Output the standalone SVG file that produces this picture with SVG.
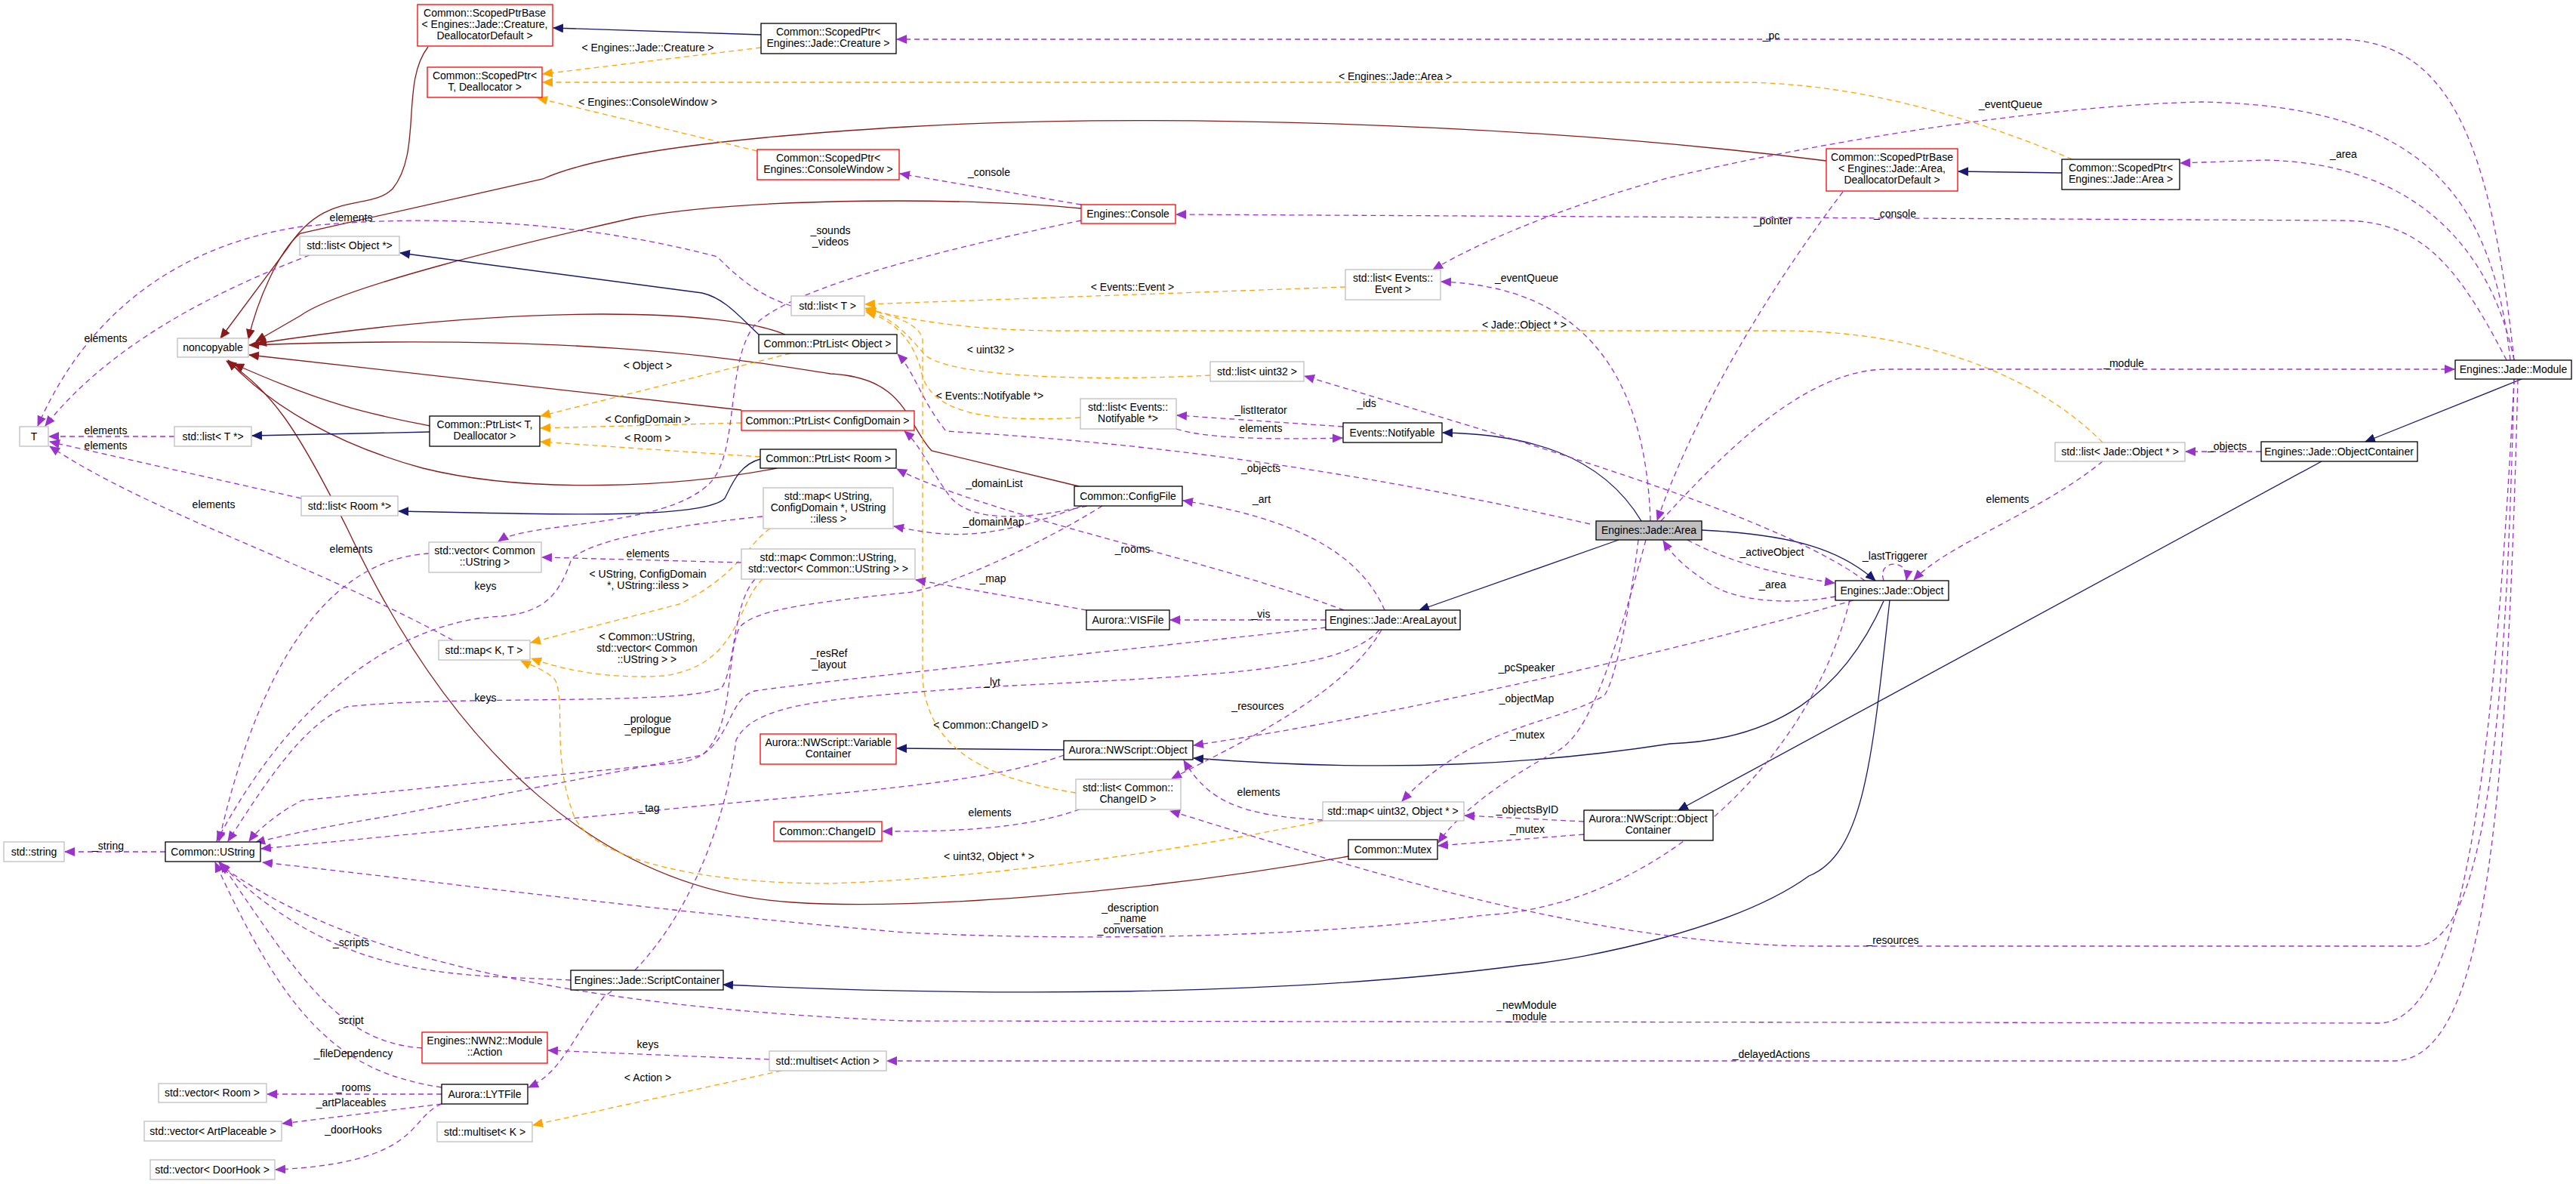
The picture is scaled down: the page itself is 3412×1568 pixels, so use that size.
<svg xmlns="http://www.w3.org/2000/svg" width="3412" height="1568" viewBox="0 0 3412 1568">
<style>
text{font-family:"Liberation Sans Narrow","Liberation Sans",Arial,sans-serif;font-size:14px;fill:#000}
.n text{text-anchor:middle}
.k{fill:#fff;stroke:#000;stroke-width:1.3}
.r{fill:#fff;stroke:#ff0000;stroke-width:1.3}
.g{fill:#fff;stroke:#bfbfbf;stroke-width:1.3}
.s{fill:#bfbfbf;stroke:#000;stroke-width:1.3}
#edges path{fill:none;stroke-width:1.3}
.inh{stroke:#191970;marker-end:url(#mi)}
.prv{stroke:#8b1a1a;marker-end:url(#mp)}
.use{stroke:#9a32cd;stroke-dasharray:7,5;marker-end:url(#mu)}
.tpl{stroke:#ffa500;stroke-dasharray:7,5;marker-end:url(#mt)}
.l text{text-anchor:middle}
</style>
<defs>
<marker id="mi" markerWidth="14" markerHeight="12" refX="13" refY="6" orient="auto" markerUnits="userSpaceOnUse"><path d="M0,0 L14,6 L0,12 z" fill="#191970"/></marker>
<marker id="mp" markerWidth="14" markerHeight="12" refX="13" refY="6" orient="auto" markerUnits="userSpaceOnUse"><path d="M0,0 L14,6 L0,12 z" fill="#8b1a1a"/></marker>
<marker id="mu" markerWidth="14" markerHeight="12" refX="13" refY="6" orient="auto" markerUnits="userSpaceOnUse"><path d="M0,0 L14,6 L0,12 z" fill="#9a32cd"/></marker>
<marker id="mt" markerWidth="14" markerHeight="12" refX="13" refY="6" orient="auto" markerUnits="userSpaceOnUse"><path d="M0,0 L14,6 L0,12 z" fill="#ffa500"/></marker>
</defs>
<rect width="3412" height="1568" fill="#fff"/>
<g id="edges">
<!-- private inheritance to noncopyable -->
<path class="prv" d="M567,62 C530,110 560,200 520,250 C490,280 430,250 380,330 L292,448"/>
<path class="prv" d="M2419,213 C2000,160 1500,150 1200,168 C1000,180 800,200 719,237 L398,309 C370,330 340,400 329,449"/>
<path class="prv" d="M1432,276 C1300,262 1000,260 842,288 C700,320 450,380 398,418 L339,452"/>
<path class="prv" d="M1040,443 C960,410 700,400 340,455"/>
<path class="prv" d="M1429,644 L1234,597 C1200,560 1200,500 1100,495 C1000,480 800,440 330,457"/>
<path class="prv" d="M982,543 L330,470"/>
<path class="prv" d="M569,564 C500,550 440,540 310,482"/>
<path class="prv" d="M1029,620 C900,645 700,655 560,620 C450,590 360,540 302,477"/>
<path class="prv" d="M1786,1134 C1500,1185 1200,1205 1050,1195 C800,1180 600,1000 460,700 C390,560 360,520 300,478"/>
<!-- inheritance -->
<path class="inh" d="M1008,46 L733,37"/>
<path class="inh" d="M2731,229 L2594,227"/>
<path class="inh" d="M1005,443 C980,420 960,395 930,388 L530,335"/>
<path class="inh" d="M569,572 L334,577"/>
<path class="inh" d="M1007,608 C980,615 970,640 960,660 C930,690 700,680 528,677"/>
<path class="inh" d="M2174,690 C2120,600 2020,575 1911,573"/>
<path class="inh" d="M2144,715 L1880,808"/>
<path class="inh" d="M2254,702 C2380,708 2440,730 2484,769"/>
<path class="inh" d="M3340,502 L3133,585"/>
<path class="inh" d="M3075,611 L2223,1073"/>
<path class="inh" d="M2495,796 C2440,920 2350,980 2212,985 C2050,1010 1850,1025 1581,1004"/>
<path class="inh" d="M2503,795 C2480,1000 2470,1130 2396,1160 C2300,1230 2100,1270 2018,1278 C1700,1320 1300,1320 958,1304"/>
<path class="inh" d="M1409,993 L1188,991"/>
<!-- templates -->
<path class="tpl" d="M1008,63 L719,98"/>
<path class="tpl" d="M2745,211 C2600,150 2450,109 2300,109 L719,109"/>
<path class="tpl" d="M1003,200 L712,130"/>
<path class="tpl" d="M1047,468 L716,551"/>
<path class="tpl" d="M982,560 L716,567"/>
<path class="tpl" d="M1007,605 L716,585"/>
<path class="tpl" d="M1782,380 L1146,403"/>
<path class="tpl" d="M2785,586 C2700,500 2550,438 2360,438 L1400,438 C1300,438 1200,425 1146,408"/>
<path class="tpl" d="M1603,497 C1450,505 1260,500 1225,470 C1200,440 1180,420 1147,410"/>
<path class="tpl" d="M1431,553 C1300,560 1240,545 1222,500 C1215,460 1190,425 1147,413"/>
<path class="tpl" d="M1425,1050 C1300,1030 1230,990 1222,900 L1222,450 C1220,430 1180,415 1147,411"/>
<path class="tpl" d="M1035,1418 L706,1490"/>
<path class="tpl" d="M1020,700 C990,720 980,760 900,800 L703,851"/>
<path class="tpl" d="M1010,767 C975,800 980,880 880,895 C800,900 740,885 704,872"/>
<path class="tpl" d="M1752,1087 C1500,1140 1250,1165 1100,1170 C900,1170 780,1130 760,1080 C730,1000 750,930 735,900 C720,885 700,880 690,875"/>
<!-- usage -->
<path class="use" d="M3330,477 C3300,200 3250,55 3100,52 L1188,52"/>
<path class="use" d="M3325,477 C3300,250 3200,140 2916,135 C2700,140 2400,190 2212,235 C2080,270 1960,320 1898,357"/>
<path class="use" d="M2186,690 C2180,500 2100,380 1909,373"/>
<path class="use" d="M3330,477 C3300,330 3200,216 3000,212 L2888,216"/>
<path class="use" d="M3320,477 C3250,340 3200,292 3100,292 L1558,284"/>
<path class="use" d="M2441,254 C2330,400 2240,560 2195,689"/>
<path class="use" d="M1432,271 L1192,230"/>
<path class="use" d="M1432,292 C1250,330 1050,380 1000,430 C960,480 980,600 940,640 C880,700 700,690 660,717"/>
<path class="use" d="M1048,405 C1000,390 970,360 950,340 C800,300 600,280 400,300 C200,330 100,450 50,564"/>
<path class="use" d="M410,338 C300,380 150,450 60,564"/>
<path class="use" d="M231,578 L65,578"/>
<path class="use" d="M399,660 L66,585"/>
<path class="use" d="M600,848 C400,740 200,680 66,591"/>
<path class="use" d="M568,733 C450,740 350,850 290,1114"/>
<path class="use" d="M1010,684 C850,700 780,720 757,740 C740,790 720,810 666,816 C550,820 400,900 287,1114"/>
<path class="use" d="M982,745 L718,738"/>
<path class="use" d="M1000,767 C970,800 975,880 956,911 C900,935 600,920 459,936 C400,960 350,1040 302,1114"/>
<path class="use" d="M3330,502 C3320,900 3300,1250 3200,1253 L2400,1253 C2100,1250 1800,1150 1550,1074"/>
<path class="use" d="M2455,795 C2300,840 1900,940 1581,987"/>
<path class="use" d="M2170,715 C2160,800 2140,900 2125,921 C2060,960 1950,960 1857,1061"/>
<path class="use" d="M2180,715 C2130,900 2100,980 2056,998 C1980,1040 1930,1080 1905,1116"/>
<path class="use" d="M2098,1088 L1940,1080"/>
<path class="use" d="M2098,1105 L1905,1120"/>
<path class="use" d="M1752,1086 C1640,1080 1600,1060 1568,1007"/>
<path class="use" d="M1430,1072 C1350,1100 1250,1101 1169,1101"/>
<path class="use" d="M1409,1000 C1300,1040 1100,1050 900,1070 L346,1124"/>
<path class="use" d="M2450,795 C2400,1000 2200,1200 1965,1212 C1700,1245 1400,1245 1200,1235 C900,1210 600,1170 348,1142"/>
<path class="use" d="M756,1298 C600,1290 450,1300 290,1142"/>
<path class="use" d="M3330,502 C3300,1100 3250,1355 3150,1355 L1200,1352 C900,1340 500,1300 291,1145"/>
<path class="use" d="M3335,502 C3320,1100 3290,1405 3170,1405 L1175,1405"/>
<path class="use" d="M2200,690 C2300,580 2400,489 2500,489 L3251,489"/>
<path class="use" d="M2785,611 C2700,680 2580,720 2535,768"/>
<path class="use" d="M2995,598 L2895,598"/>
<path class="use" d="M2235,715 C2300,750 2380,765 2430,772"/>
<path class="use" d="M2431,790 C2380,800 2300,800 2260,770 C2230,750 2215,735 2203,716"/>
<path class="use" d="M2495,769 C2485,740 2530,740 2525,768"/>
<path class="use" d="M2470,769 C2350,680 2000,580 1728,498"/>
<path class="use" d="M1779,565 L1559,550"/>
<path class="use" d="M1558,568 C1600,582 1700,582 1778,580"/>
<path class="use" d="M2106,694 C1700,600 1400,580 1253,571 C1220,530 1210,490 1189,469"/>
<path class="use" d="M1834,808 C1800,730 1712,686 1567,663"/>
<path class="use" d="M1440,670 C1350,690 1290,690 1260,660 C1230,620 1220,590 1198,571"/>
<path class="use" d="M1433,670 C1300,720 1250,710 1184,697"/>
<path class="use" d="M1780,808 C1600,740 1300,680 1188,621"/>
<path class="use" d="M1439,808 L1213,768"/>
<path class="use" d="M1756,831 C1500,860 1100,900 1000,915 C960,925 970,1000 900,1010 L400,1060 C370,1075 340,1100 330,1114"/>
<path class="use" d="M1460,670 C1380,720 1250,780 1200,785 C1050,800 1000,810 980,830 C960,870 975,960 930,1000 L520,1080 C460,1090 400,1100 338,1116"/>
<path class="use" d="M1827,834 C1780,890 1600,895 1300,910 C1100,925 1000,930 975,980 C960,1100 900,1250 800,1320 C760,1370 745,1420 700,1440"/>
<path class="use" d="M1756,821 L1550,821"/>
<path class="use" d="M1830,834 C1780,920 1650,980 1552,1031"/>
<path class="use" d="M559,1388 C450,1380 400,1300 292,1142"/>
<path class="use" d="M585,1440 C450,1420 380,1350 285,1142"/>
<path class="use" d="M585,1449 L354,1449"/>
<path class="use" d="M585,1462 L374,1488"/>
<path class="use" d="M585,1462 C540,1480 560,1540 365,1549"/>
<path class="use" d="M1019,1403 L726,1391"/>
<path class="use" d="M219,1128 L86,1128"/>
</g>
<g id="labels" class="l">
<text x="858" y="68">&lt; Engines::Jade::Creature &gt;</text>
<text x="858" y="140">&lt; Engines::ConsoleWindow &gt;</text>
<text x="1848" y="106">&lt; Engines::Jade::Area &gt;</text>
<text x="2346" y="52">_pc</text>
<text x="2663" y="143">_eventQueue</text>
<text x="2022" y="373">_eventQueue</text>
<text x="3104" y="209">_area</text>
<text x="2510" y="288">_console</text>
<text x="2348" y="297">_pointer</text>
<text x="1310" y="233">_console</text>
<text x="1100" y="310">_sounds</text><text x="1100" y="325">_videos</text>
<text x="465" y="293">elements</text>
<text x="140" y="453">elements</text>
<text x="140" y="575">elements</text>
<text x="140" y="595">elements</text>
<text x="283" y="673">elements</text>
<text x="465" y="732">elements</text>
<text x="643" y="781">keys</text>
<text x="858" y="738">elements</text>
<text x="858" y="765">&lt; UString, ConfigDomain</text><text x="858" y="780">*, UString::iless &gt;</text>
<text x="857" y="848">&lt; Common::UString,</text><text x="857" y="863">std::vector&lt; Common</text><text x="857" y="878">::UString &gt; &gt;</text>
<text x="643" y="929">keys</text>
<text x="1098" y="870">_resRef</text><text x="1098" y="885">_layout</text>
<text x="858" y="957">_prologue</text><text x="858" y="971">_epilogue</text>
<text x="860" y="1075">_tag</text>
<text x="1314" y="908">_lyt</text>
<text x="1312" y="965">&lt; Common::ChangeID &gt;</text>
<text x="1310" y="1139">&lt; uint32, Object * &gt;</text>
<text x="1311" y="1081">elements</text>
<text x="1667" y="1054">elements</text>
<text x="1666" y="940">_resources</text>
<text x="1670" y="818">_vis</text>
<text x="1315" y="771">_map</text>
<text x="1500" y="732">_rooms</text>
<text x="1317" y="645">_domainList</text>
<text x="1316" y="696">_domainMap</text>
<text x="1671" y="666">_art</text>
<text x="1670" y="625">_objects</text>
<text x="1670" y="548">_listIterator</text>
<text x="1670" y="572">elements</text>
<text x="1810" y="539">_ids</text>
<text x="1500" y="385">&lt; Events::Event &gt;</text>
<text x="2019" y="435">&lt; Jade::Object * &gt;</text>
<text x="1312" y="468">&lt; uint32 &gt;</text>
<text x="1311" y="529">&lt; Events::Notifyable *&gt;</text>
<text x="858" y="489">&lt; Object &gt;</text>
<text x="858" y="560">&lt; ConfigDomain &gt;</text>
<text x="858" y="585">&lt; Room &gt;</text>
<text x="2813" y="486">_module</text>
<text x="2950" y="596">_objects</text>
<text x="2659" y="666">elements</text>
<text x="2347" y="736">_activeObject</text>
<text x="2348" y="779">_area</text>
<text x="2510" y="741">_lastTriggerer</text>
<text x="2022" y="889">_pcSpeaker</text>
<text x="2022" y="930">_objectMap</text>
<text x="2023" y="978">_mutex</text>
<text x="2023" y="1077">_objectsByID</text>
<text x="2023" y="1103">_mutex</text>
<text x="1497" y="1207">_description</text><text x="1497" y="1221">_name</text><text x="1497" y="1236">_conversation</text>
<text x="2507" y="1250">_resources</text>
<text x="2022" y="1336">_newModule</text><text x="2022" y="1351">_module</text>
<text x="2346" y="1401">_delayedActions</text>
<text x="465" y="1253">_scripts</text>
<text x="465" y="1356">script</text>
<text x="468" y="1400">_fileDependency</text>
<text x="468" y="1445">_rooms</text>
<text x="465" y="1465">_artPlaceables</text>
<text x="468" y="1501">_doorHooks</text>
<text x="858" y="1388">keys</text>
<text x="858" y="1432">&lt; Action &gt;</text>
<text x="143" y="1125">_string</text>
</g>
<g id="n1" class="n"><rect class="r" x="553" y="6" width="179" height="55"/><text x="642" y="22">Common::ScopedPtrBase</text><text x="642" y="37">&lt; Engines::Jade::Creature,</text><text x="642" y="52">DeallocatorDefault &gt;</text></g>
<g id="n2" class="n"><rect class="r" x="566" y="89" width="152" height="40"/><text x="642" y="105">Common::ScopedPtr&lt;</text><text x="642" y="120">T, Deallocator &gt;</text></g>
<g id="n3" class="n"><rect class="r" x="1003" y="198" width="188" height="40"/><text x="1097" y="214">Common::ScopedPtr&lt;</text><text x="1097" y="229">Engines::ConsoleWindow &gt;</text></g>
<g id="n4" class="n"><rect class="k" x="1008" y="31" width="179" height="40"/><text x="1097" y="47">Common::ScopedPtr&lt;</text><text x="1097" y="62">Engines::Jade::Creature &gt;</text></g>
<g id="n5" class="n"><rect class="g" x="397" y="313" width="132" height="25"/><text x="463" y="330">std::list&lt; Object *&gt;</text></g>
<g id="n6" class="n"><rect class="g" x="1048" y="392" width="97" height="26"/><text x="1096" y="410">std::list&lt; T &gt;</text></g>
<g id="n7" class="n"><rect class="g" x="235" y="448" width="94" height="25"/><text x="282" y="465">noncopyable</text></g>
<g id="n8" class="n"><rect class="k" x="1005" y="443" width="183" height="25"/><text x="1096" y="460">Common::PtrList&lt; Object &gt;</text></g>
<g id="n9" class="n"><rect class="g" x="26" y="565" width="38" height="26"/><text x="45" y="583">T</text></g>
<g id="n10" class="n"><rect class="g" x="231" y="565" width="102" height="26"/><text x="282" y="583">std::list&lt; T *&gt;</text></g>
<g id="n11" class="n"><rect class="k" x="569" y="551" width="146" height="40"/><text x="642" y="567">Common::PtrList&lt; T,</text><text x="642" y="582">Deallocator &gt;</text></g>
<g id="n12" class="n"><rect class="r" x="982" y="544" width="229" height="26"/><text x="1096" y="562">Common::PtrList&lt; ConfigDomain &gt;</text></g>
<g id="n13" class="n"><rect class="k" x="1007" y="595" width="180" height="25"/><text x="1097" y="612">Common::PtrList&lt; Room &gt;</text></g>
<g id="n14" class="n"><rect class="g" x="399" y="657" width="128" height="26"/><text x="463" y="675">std::list&lt; Room *&gt;</text></g>
<g id="n15" class="n"><rect class="g" x="1011" y="646" width="172" height="54"/><text x="1097" y="662">std::map&lt; UString,</text><text x="1097" y="677">ConfigDomain *, UString</text><text x="1097" y="692">::iless &gt;</text></g>
<g id="n16" class="n"><rect class="g" x="568" y="718" width="149" height="40"/><text x="642" y="734">std::vector&lt; Common</text><text x="642" y="749">::UString &gt;</text></g>
<g id="n17" class="n"><rect class="g" x="982" y="727" width="230" height="40"/><text x="1097" y="743">std::map&lt; Common::UString,</text><text x="1097" y="758">std::vector&lt; Common::UString &gt; &gt;</text></g>
<g id="n18" class="n"><rect class="r" x="1432" y="271" width="125" height="25"/><text x="1494" y="288">Engines::Console</text></g>
<g id="n19" class="n"><rect class="g" x="1782" y="357" width="126" height="40"/><text x="1845" y="373">std::list&lt; Events::</text><text x="1845" y="388">Event &gt;</text></g>
<g id="n20" class="n"><rect class="g" x="1603" y="479" width="124" height="26"/><text x="1665" y="497">std::list&lt; uint32 &gt;</text></g>
<g id="n21" class="n"><rect class="g" x="1431" y="528" width="127" height="40"/><text x="1494" y="544">std::list&lt; Events::</text><text x="1494" y="559">Notifyable *&gt;</text></g>
<g id="n22" class="n"><rect class="k" x="1779" y="560" width="131" height="26"/><text x="1844" y="578">Events::Notifyable</text></g>
<g id="n23" class="n"><rect class="k" x="1423" y="644" width="143" height="26"/><text x="1494" y="662">Common::ConfigFile</text></g>
<g id="n24" class="n"><rect class="s" x="2114" y="690" width="140" height="25"/><text x="2184" y="707">Engines::Jade::Area</text></g>
<g id="n25" class="n"><rect class="r" x="2419" y="197" width="174" height="56"/><text x="2506" y="213">Common::ScopedPtrBase</text><text x="2506" y="228">&lt; Engines::Jade::Area,</text><text x="2506" y="243">DeallocatorDefault &gt;</text></g>
<g id="n26" class="n"><rect class="k" x="2731" y="211" width="156" height="40"/><text x="2809" y="227">Common::ScopedPtr&lt;</text><text x="2809" y="242">Engines::Jade::Area &gt;</text></g>
<g id="n27" class="n"><rect class="k" x="3252" y="477" width="154" height="25"/><text x="3329" y="494">Engines::Jade::Module</text></g>
<g id="n28" class="n"><rect class="g" x="2722" y="586" width="172" height="25"/><text x="2808" y="603">std::list&lt; Jade::Object * &gt;</text></g>
<g id="n29" class="n"><rect class="k" x="2995" y="585" width="207" height="26"/><text x="3098" y="603">Engines::Jade::ObjectContainer</text></g>
<g id="n30" class="n"><rect class="k" x="2431" y="769" width="150" height="26"/><text x="2506" y="787">Engines::Jade::Object</text></g>
<g id="n31" class="n"><rect class="g" x="581" y="848" width="121" height="26"/><text x="641" y="866">std::map&lt; K, T &gt;</text></g>
<g id="n32" class="n"><rect class="k" x="219" y="1115" width="126" height="26"/><text x="282" y="1133">Common::UString</text></g>
<g id="n33" class="n"><rect class="g" x="5" y="1115" width="80" height="26"/><text x="45" y="1133">std::string</text></g>
<g id="n34" class="n"><rect class="r" x="1007" y="972" width="180" height="40"/><text x="1097" y="988">Aurora::NWScript::Variable</text><text x="1097" y="1003">Container</text></g>
<g id="n35" class="n"><rect class="r" x="1025" y="1088" width="143" height="26"/><text x="1096" y="1106">Common::ChangeID</text></g>
<g id="n36" class="n"><rect class="k" x="756" y="1285" width="202" height="26"/><text x="857" y="1303">Engines::Jade::ScriptContainer</text></g>
<g id="n37" class="n"><rect class="r" x="559" y="1367" width="166" height="41"/><text x="642" y="1383">Engines::NWN2::Module</text><text x="642" y="1398">::Action</text></g>
<g id="n38" class="n"><rect class="k" x="585" y="1436" width="114" height="26"/><text x="642" y="1454">Aurora::LYTFile</text></g>
<g id="n39" class="n"><rect class="g" x="1019" y="1392" width="155" height="26"/><text x="1096" y="1410">std::multiset&lt; Action &gt;</text></g>
<g id="n40" class="n"><rect class="g" x="210" y="1435" width="143" height="25"/><text x="281" y="1452">std::vector&lt; Room &gt;</text></g>
<g id="n41" class="n"><rect class="g" x="191" y="1485" width="182" height="26"/><text x="282" y="1503">std::vector&lt; ArtPlaceable &gt;</text></g>
<g id="n42" class="n"><rect class="g" x="579" y="1486" width="126" height="26"/><text x="642" y="1504">std::multiset&lt; K &gt;</text></g>
<g id="n43" class="n"><rect class="g" x="199" y="1536" width="165" height="26"/><text x="281" y="1554">std::vector&lt; DoorHook &gt;</text></g>
<g id="n44" class="n"><rect class="k" x="1439" y="808" width="110" height="26"/><text x="1494" y="826">Aurora::VISFile</text></g>
<g id="n45" class="n"><rect class="k" x="1756" y="808" width="178" height="26"/><text x="1845" y="826">Engines::Jade::AreaLayout</text></g>
<g id="n46" class="n"><rect class="k" x="1409" y="981" width="171" height="25"/><text x="1494" y="998">Aurora::NWScript::Object</text></g>
<g id="n47" class="n"><rect class="g" x="1425" y="1032" width="139" height="40"/><text x="1494" y="1048">std::list&lt; Common::</text><text x="1494" y="1063">ChangeID &gt;</text></g>
<g id="n48" class="n"><rect class="g" x="1752" y="1062" width="187" height="25"/><text x="1845" y="1079">std::map&lt; uint32, Object * &gt;</text></g>
<g id="n49" class="n"><rect class="k" x="1786" y="1112" width="118" height="26"/><text x="1845" y="1130">Common::Mutex</text></g>
<g id="n50" class="n"><rect class="k" x="2098" y="1073" width="171" height="40"/><text x="2183" y="1089">Aurora::NWScript::Object</text><text x="2183" y="1104">Container</text></g>
</svg>
